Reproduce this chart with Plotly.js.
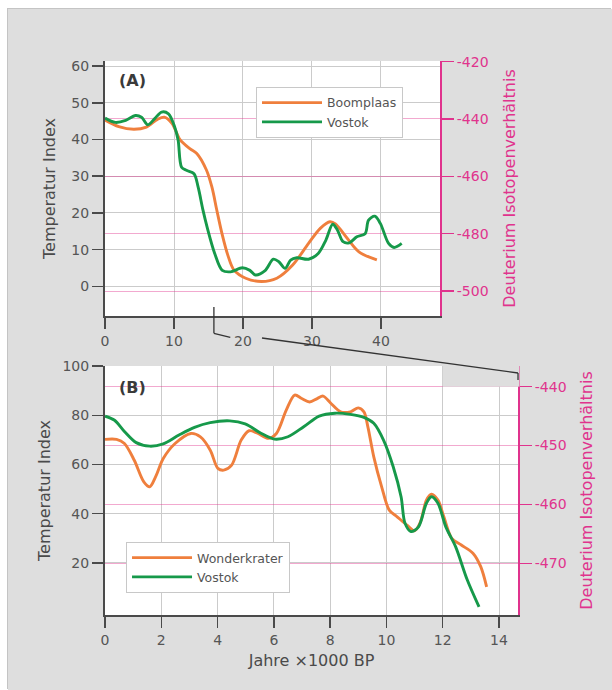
<!DOCTYPE html>
<html>
<head>
<meta charset="utf-8">
<script src="https://cdn.plot.ly/plotly-3.0.1.min.js"></script>
<style>
  html, body { margin:0; padding:0; background:#ffffff; width:612px; height:690px; overflow:hidden; }
  #chart { position:absolute; left:8px; top:9px; width:604px; height:681px;
           box-shadow: -1px -1px 0 #c4c4c4; }
</style>
</head>
<body>
<div id="chart"></div>
<script>
// ---------- Panel A data (x: Jahre ×1000 BP) ----------
// Boomplaas: Temperatur Index (left axis)
const boomplaasX = [0, 2, 4.2, 6, 7.6, 8.6, 9.7, 10.9, 12.3, 13.3, 14.7, 15.5, 16.2, 17.0, 17.8, 18.7, 20.4, 22.7, 24.9, 27.2, 29.5, 31.2, 32.6, 33.4, 35.1, 36.8, 39.4];
const boomplaasY = [45.3, 43.5, 42.8, 43.4, 45.5, 46.1, 44.4, 39.9, 37.5, 36.2, 31.7, 27, 20.8, 14, 8.5, 4.4, 2.2, 1.3, 2.2, 5.8, 11.7, 15.8, 17.6, 17.0, 13.1, 9.4, 7.2];

// Vostok: Deuterium Isotopenverhältnis (right axis)
const vostokAX = [0, 1.5, 3.0, 4.4, 5.3, 6.2, 7.2, 8.2, 9.2, 10.1, 10.6, 11.1, 11.8, 12.9, 13.5, 14.2, 14.8, 15.9, 17.0, 18.2, 19.9, 21.0, 21.8, 23.2, 24.4, 25.2, 26.1, 26.9, 27.8, 29.5, 30.9, 32.0, 33.0, 33.7, 34.5, 35.4, 36.5, 37.7, 38.2, 39.1, 39.9, 41.1, 41.9, 43.0];
const vostokAD = [-439.7, -441.2, -440.5, -438.8, -439.4, -442.0, -439.9, -437.6, -438.2, -442.8, -447.4, -456.8, -457.9, -459.1, -463.8, -471.8, -477.7, -486.9, -492.8, -493.3, -491.9, -492.8, -494.4, -492.9, -488.9, -489.8, -492.1, -489.2, -488.4, -488.9, -486.9, -482.3, -476.7, -478.8, -482.8, -483.2, -481.1, -480.0, -475.3, -473.9, -476.4, -483.4, -484.8, -483.4];

// ---------- Panel B data ----------
// Wonderkrater: Temperatur Index (left axis)
const wonderkraterX = [0, 0.41, 0.69, 1.04, 1.38, 1.59, 1.8, 2.07, 2.49, 3.05, 3.39, 3.74, 4.01, 4.22, 4.5, 4.84, 5.12, 5.4, 5.81, 6.09, 6.44, 6.74, 6.99, 7.27, 7.54, 7.75, 8.03, 8.37, 8.72, 9.0, 9.2, 9.34, 9.55, 9.83, 10.1, 10.38, 10.73, 11.0, 11.21, 11.42, 11.6, 11.83, 12.04, 12.32, 12.66, 13.08, 13.35, 13.56];
const wonderkraterY = [70.2, 70.2, 68.5, 61.7, 52.9, 50.9, 55, 62.4, 68.5, 72.6, 71.2, 65.8, 58.4, 57.7, 59.7, 69.9, 73.7, 72.8, 70.6, 72.6, 82.1, 88.2, 86.8, 85.4, 86.8, 87.8, 84.8, 81.4, 81.4, 83, 81.4, 75.3, 63.1, 50.9, 41.4, 38.7, 35.3, 33, 36.7, 45.5, 47.9, 45.5, 38.7, 29.9, 27.2, 23.8, 18.4, 10.2];

// Vostok: Deuterium Isotopenverhältnis (right axis)
const vostokBX = [0, 0.34, 0.69, 1.11, 1.59, 2.07, 2.63, 3.18, 3.74, 4.43, 4.98, 5.54, 6.02, 6.5, 7.06, 7.61, 8.17, 8.72, 9.2, 9.55, 9.9, 10.24, 10.52, 10.66, 10.87, 11.14, 11.42, 11.6, 11.83, 12.11, 12.46, 12.87, 13.29];
const vostokBD = [-445.0, -445.7, -447.6, -449.5, -450.1, -449.7, -448.2, -446.9, -446.1, -445.8, -446.3, -447.9, -448.9, -448.5, -446.8, -445.0, -444.5, -444.7, -445.2, -446.2, -449.1, -453.6, -458.7, -463.2, -464.6, -463.8, -459.8, -458.7, -459.8, -463.8, -467.2, -472.8, -477.4];

// ---------- Tick labels ----------
const xTicksA = [0, 10, 20, 30, 40];
const yTicksA = [0, 10, 20, 30, 40, 50, 60];
const deutTicksA = [-420, -440, -460, -480, -500];
const deutLabelsA = ['-420', '-440', '-460', '-480', '-500'];
const xTicksB = [0, 2, 4, 6, 8, 10, 12, 14];
const yTicksB = [20, 40, 60, 80, 100];
const deutTicksB = [-440, -450, -460, -470];
const deutLabelsB = ['-440', '-450', '-460', '-470'];

const ORANGE = '#ef7f3d';
const GREEN = '#16994a';
const PINK = '#e0338d';
const PINKGRID = 'rgba(224,51,141,0.42)';
const GRID = '#cbcbcb';
const AXIS = '#4a4a4a';
const TXT = '#555555';
const FONT = 'DejaVu Sans, sans-serif';

const lineStyle = (c) => ({color: c, width: 2.9, shape: 'spline', smoothing: 0.9});

const traces = [
  {x: boomplaasX, y: boomplaasY, name: 'Boomplaas', mode: 'lines', line: lineStyle(ORANGE), xaxis: 'x', yaxis: 'y', legend: 'legend'},
  {x: vostokAX, y: vostokAD, name: 'Vostok', mode: 'lines', line: lineStyle(GREEN), xaxis: 'x', yaxis: 'y2', legend: 'legend'},
  {x: wonderkraterX, y: wonderkraterY, name: 'Wonderkrater', mode: 'lines', line: lineStyle(ORANGE), xaxis: 'x2', yaxis: 'y3', legend: 'legend2'},
  {x: vostokBX, y: vostokBD, name: 'Vostok', mode: 'lines', line: lineStyle(GREEN), xaxis: 'x2', yaxis: 'y4', legend: 'legend2'}
];

const tickFont = {family: FONT, size: 14, color: TXT};
const pinkFont = {family: FONT, size: 14, color: PINK};

const leftAxis = (extra) => Object.assign({
  showgrid: true, gridcolor: GRID, gridwidth: 1, zeroline: false,
  showline: true, linecolor: AXIS, linewidth: 2,
  ticks: 'outside', ticklen: 11, tickwidth: 1.5, tickcolor: AXIS,
  tickfont: tickFont, tickmode: 'array', fixedrange: true
}, extra);

const rightAxis = (extra) => Object.assign({
  side: 'right', showgrid: true, gridcolor: PINKGRID, gridwidth: 1, zeroline: false,
  showline: true, linecolor: PINK, linewidth: 2,
  ticks: 'outside', ticklen: 12, tickwidth: 1.5, tickcolor: PINK,
  tickfont: pinkFont, tickmode: 'array', fixedrange: true
}, extra);

const layout = {
  width: 604, height: 681,
  margin: {l: 0, r: 0, t: 0, b: 0},
  paper_bgcolor: '#dedede', plot_bgcolor: '#ffffff',
  font: {family: FONT, color: TXT},
  showlegend: true,
  xaxis: leftAxis({domain: [0.1606, 0.7152], anchor: 'y', range: [0, 48.55], tickvals: xTicksA}),
  yaxis: leftAxis({domain: [0.5492, 0.9236], anchor: 'x', range: [-8.09, 61.39], tickvals: yTicksA,
    title: {text: 'Temperatur Index', font: {family: FONT, size: 16, color: '#4a4a4a'}, standoff: 12}}),
  yaxis2: rightAxis({overlaying: 'y', anchor: 'x', range: [-508.7, -419.8], tickvals: deutTicksA, ticktext: deutLabelsA,
    title: {text: 'Deuterium Isotopenverhältnis', font: {family: FONT, size: 16, color: PINK}, standoff: 16}}),
  xaxis2: leftAxis({domain: [0.1606, 0.8444], anchor: 'y3', range: [0, 14.675], tickvals: xTicksB,
    title: {text: 'Jahre ×1000 BP', font: {family: FONT, size: 16, color: '#4a4a4a'}, standoff: 8}}),
  yaxis3: leftAxis({domain: [0.1101, 0.4758], anchor: 'x2', range: [-1.26, 100.05], tickvals: yTicksB,
    title: {text: 'Temperatur Index', font: {family: FONT, size: 16, color: '#4a4a4a'}, standoff: 8}}),
  yaxis4: rightAxis({overlaying: 'y3', anchor: 'x2', range: [-478.78, -436.48], tickvals: deutTicksB, ticktext: deutLabelsB,
    title: {text: 'Deuterium Isotopenverhältnis', font: {family: FONT, size: 16, color: PINK}, standoff: 15}}),
  legend: {x: 0.4106, y: 0.8855, xanchor: 'left', yanchor: 'top', bgcolor: '#ffffff', bordercolor: '#c8c8c8', borderwidth: 1,
    font: {family: FONT, size: 12.5, color: TXT}, itemwidth: 60, tracegroupgap: 0},
  legend2: {x: 0.1954, y: 0.2173, xanchor: 'left', yanchor: 'top', bgcolor: '#ffffff', bordercolor: '#c8c8c8', borderwidth: 1,
    font: {family: FONT, size: 12.5, color: TXT}, itemwidth: 60, tracegroupgap: 0},
  annotations: [
    {text: '<b>(A)</b>', xref: 'paper', yref: 'paper', x: 0.1805, y: 0.8957, xanchor: 'left', yanchor: 'middle',
     showarrow: false, font: {family: FONT, size: 16, color: '#3a3a3a'}},
    {text: '<b>(B)</b>', xref: 'paper', yref: 'paper', x: 0.1805, y: 0.4435, xanchor: 'left', yanchor: 'middle',
     showarrow: false, font: {family: FONT, size: 16, color: '#3a3a3a'}}
  ],
  shapes: [
    // grey notch at top-right of panel B (zoom connector)
    {type: 'rect', xref: 'x2', yref: 'y3', x0: 12, x1: 14.675, y0: 91.6, y1: 100.05, fillcolor: '#dedede', line: {width: 0}, layer: 'between'},
    {type: 'line', xref: 'paper', yref: 'paper', x0: 0.8444, x1: 0.8444, y0: 0.4758, y1: 0.4455, line: {color: '#dedede', width: 3}, layer: 'above'},
    // zoom connector lines
    {type: 'line', xref: 'paper', yref: 'paper', x0: 0.3409, x1: 0.3409, y0: 0.5624, y1: 0.5238, line: {color: '#333', width: 1.3}},
    {type: 'line', xref: 'paper', yref: 'paper', x0: 0.3409, x1: 0.3680, y0: 0.5238, y1: 0.5179, line: {color: '#333', width: 1.3}},
    {type: 'line', xref: 'paper', yref: 'paper', x0: 0.4205, x1: 0.8444, y0: 0.5169, y1: 0.4655, line: {color: '#333', width: 1.3}},
    {type: 'line', xref: 'paper', yref: 'paper', x0: 0.8444, x1: 0.8444, y0: 0.4655, y1: 0.4552, line: {color: '#333', width: 1.3}}
  ]
};

Plotly.newPlot('chart', traces, layout, {displayModeBar: false, staticPlot: true});
</script>
</body>
</html>
